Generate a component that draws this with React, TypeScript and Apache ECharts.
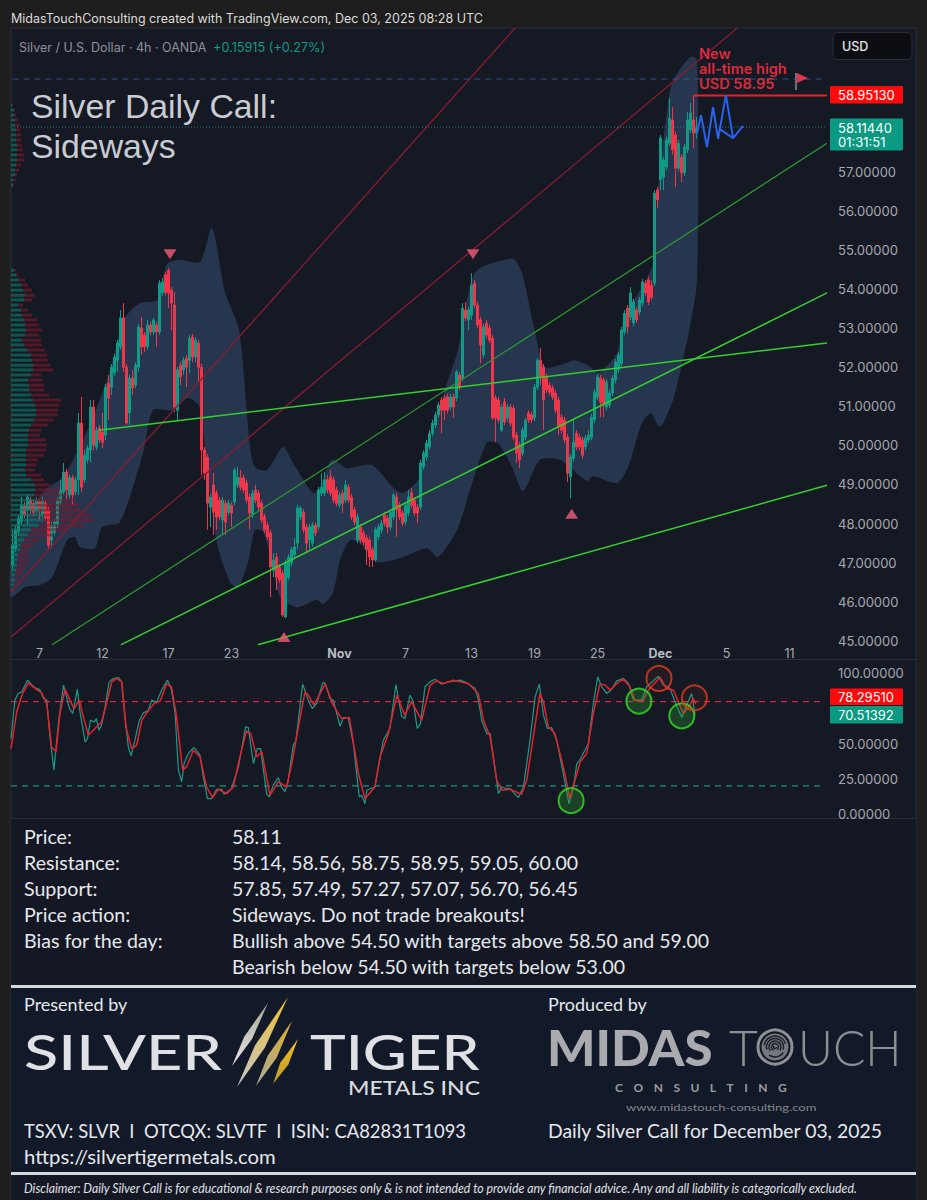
import * as echarts from "echarts";
import { useEffect, useRef } from "react";

// Price candles, 4h bars, one row per bar: open, close, low, high
const candles: number[][] = [
  [46.92,47.45,46.81,47.84],[47.37,47.84,47.27,47.96],[47.79,48.14,47.7,48.22],[48.04,48.47,47.96,48.68],[48.47,48.22,48.14,48.55],
  [48.35,48.68,47.96,48.76],[48.6,48.35,48.27,48.68],[48.52,48.29,48.2,48.6],[48.35,48.6,48.27,48.68],[48.55,48.35,48.09,48.63],
  [48.22,48.6,48.14,48.68],[48.52,48.14,48.06,48.6],[48.35,47.45,47.37,48.43],[47.58,47.96,47.37,48.04],[47.78,48.04,47.7,48.12],
  [47.96,48.6,47.88,48.68],[48.55,48.86,48.47,49.12],[48.81,49.32,48.73,49.55],[49.32,48.86,48.6,49.4],[48.73,49.17,48.65,49.25],
  [49.17,48.73,48.47,49.25],[48.81,49.12,48.73,49.2],[49.12,50.57,48.73,50.83],[50.57,48.93,48.81,51.24],[49.12,49.75,49.04,49.88],
  [49.63,49.93,49.55,50.01],[49.88,50.98,49.57,51.16],[50.98,50.01,49.88,51.16],[49.96,50.39,49.88,50.47],[50.44,50.14,50.06,50.52],
  [50.34,50.08,49.93,50.83],[50.26,51.49,50.14,51.57],[51.59,51.21,50.65,51.8],[51.49,52,51.29,52.08],[51.85,52.26,51.77,52.34],
  [52.18,52.62,51.88,52.7],[52.52,53.26,52.44,53.46],[53.26,52,51.88,53.64],[52,50.57,50.52,52.08],[50.83,51.72,50.52,51.8],
  [51.72,51.47,51.29,51.93],[51.54,52.05,51.46,52.13],[52,53.03,51.88,53.11],[53,52.52,52.31,53.28],[52.82,52.52,52.39,52.9],
  [52.52,53.08,52.44,53.21],[53.08,52.9,52.82,53.16],[52.9,53.21,52.82,53.26],[53.08,52.9,52.52,53.16],[52.9,54.15,52.82,54.23],
  [53.9,54.18,53.82,54.28],[54.36,53.92,53.84,54.43],[54.48,53.9,53.51,54.54],[53.97,53.64,52.95,54.05],[53.59,50.98,50.85,53.92],
  [50.9,51.93,50.65,52.01],[52.05,51.75,51.54,52.13],[51.93,52.18,51.8,52.26],[52.23,52,51.49,52.31],[52.18,52.74,51.85,52.82],
  [52.77,52.26,52.13,52.85],[52.26,52.69,52.13,52.77],[52.62,52,51.62,52.7],[52,49.88,49.24,52.08],[49.88,49.29,49.12,49.96],
  [49.7,48.52,47.84,49.78],[48.42,48.68,47.91,48.76],[48.99,48.29,47.71,49.29],[48.78,48.17,47.84,48.86],[48.6,48.17,48.09,48.68],
  [48.09,48.6,47.71,48.68],[48.52,48.04,47.71,48.6],[48.29,48.52,48.21,48.6],[48.47,48.27,47.91,48.55],[48.55,49.37,48.47,49.42],
  [48.99,49.19,48.91,49.45],[49.17,48.93,48.85,49.37],[49.17,48.86,48.78,49.25],[49.04,48.6,48.52,49.12],[48.68,48.27,47.84,48.76],
  [48.22,48.78,48.14,48.86],[48.86,48.6,48.52,48.99],[48.78,48.42,48.34,48.86],[48.52,48.09,48.01,48.6],[48.17,47.84,47.76,48.25],
  [47.96,47.66,47.58,48.04],[47.76,46.89,46.12,47.84],[46.81,47.07,46.63,47.25],[47.14,46.63,46.3,47.25],[46.89,46.56,46.48,46.97],
  [46.73,45.66,45.61,46.81],[45.61,47,45.58,47.08],[46.63,47.14,46.55,47.22],[46.99,47.33,46.91,47.41],[47.2,47.4,47.12,47.63],
  [47.5,48.4,47.33,48.48],[48.17,48.4,48.09,48.45],[48.29,47.84,47.76,48.37],[47.91,47.5,47.27,47.99],[47.58,47.91,47.33,47.99],
  [47.5,47.96,47.42,48.04],[47.96,47.76,47.68,48.04],[47.91,48.86,47.83,48.94],[48.78,48.93,48.7,49.29],[48.78,49.12,48.7,49.32],
  [49.12,48.86,48.78,49.24],[49.19,48.78,48.7,49.37],[49.12,48.6,48.52,49.2],[48.86,48.52,48.44,48.94],[48.47,48.73,48.39,48.81],
  [48.78,48.52,48.27,48.86],[48.6,48.99,48.52,49.12],[48.93,48.6,48.52,49.01],[48.68,48.17,48.09,48.76],[48.35,48.04,47.96,48.43],
  [47.58,48.17,47.5,48.25],[47.91,47.58,47.5,47.99],[47.76,47.53,47.45,47.84],[47.63,47.33,46.94,47.71],[47.58,47.14,46.89,47.66],
  [47.33,47.07,46.89,47.41],[47.07,47.84,47.02,47.92],[47.66,47.91,47.58,47.99],[47.84,48.01,47.76,48.09],[48.22,48.01,47.93,48.3],
  [48.14,47.91,47.76,48.22],[47.91,48.29,47.83,48.37],[48.17,48.73,48.09,48.78],[48.68,48.35,47.66,48.78],[48.47,48.17,48.09,48.55],
  [48.27,48.01,47.93,48.35],[48.04,48.47,47.96,48.55],[48.27,48.68,48.19,48.86],[48.78,48.47,48.39,48.91],[48.6,48.27,48.19,48.68],
  [48.42,48.27,48.01,48.5],[48.42,49.55,48.34,49.63],[49.45,49.8,49.37,49.88],[49.7,50.06,49.62,50.14],[49.96,50.31,49.88,50.39],
  [50.31,50.57,50.23,50.65],[50.52,50.78,50.44,50.86],[50.78,51.03,50.7,51.11],[51.16,50.9,50.31,51.24],[51.21,50.9,50.65,51.29],
  [51.24,50.9,50.82,51.32],[50.98,51.24,50.9,51.32],[51.24,50.98,50.7,51.32],[51.21,51.88,51.13,51.93],[51.8,51.49,51.41,51.88],
  [51.72,53.51,51.64,53.64],[53.46,53.26,53.18,53.66],[53.21,53.46,52.95,53.54],[53.33,54.1,53.21,54.41],[54.15,53.59,53.51,54.23],
  [53.59,53.08,53,53.67],[53.21,52.57,52.1,53.29],[52.31,53.03,52.23,53.11],[53.13,52.82,52.74,53.21],[53,52.69,52.61,53.08],
  [52.74,50.7,50.65,52.82],[51.21,50.7,50.08,51.29],[51.16,50.65,50.57,51.24],[50.39,50.98,50.34,51.06],[51.11,50.6,50.52,51.21],
  [50.7,50.98,50.62,51.06],[50.98,50.57,50.49,51.06],[50.95,50.21,50.13,51.03],[50.26,49.8,49.55,50.34],[50.01,49.63,49.42,50.09],
  [49.8,50.39,49.72,50.47],[50.21,50.65,50.13,50.7],[50.83,50.65,50.57,50.9],[50.78,50.65,50.57,50.86],[50.7,51.49,50.62,51.57],
  [51.49,52.18,51.41,52.23],[52.18,51.75,51.54,52.49],[52,51.16,50.39,52.08],[51.75,51.42,51.34,51.83],[51.54,51.36,51.28,51.62],
  [51.47,51.24,51.16,51.55],[51.34,50.9,50.82,51.42],[51.16,50.47,50.26,51.24],[50.72,50.39,50.31,50.8],[50.65,50.14,50.06,50.73],
  [50.21,49.29,49.06,50.29],[49.2,49.7,48.65,49.78],[49.67,50.08,49.59,50.65],[50.31,49.96,49.88,50.39],[50.21,49.96,49.88,50.29],
  [50.14,49.75,49.67,50.22],[49.96,50.19,49.88,50.27],[50.14,50.26,50.06,50.39],[50.21,50.72,50.13,50.8],[50.65,51.36,50.57,51.44],
  [51.24,51.75,51.16,51.83],[51.72,51.11,50.72,51.8],[51.67,51.03,50.72,51.75],[50.98,51.62,50.9,51.7],[51.03,51.34,50.95,51.42],
  [51.34,51.72,51.26,51.8],[51.67,52.13,51.59,52.21],[51.93,52.31,51.85,52.39],[52.1,52.95,52.02,53.03],[52.9,53.38,52.82,53.46],
  [53.51,53.03,52.87,53.59],[53.28,53.9,53.2,54.05],[53.13,53.67,53.05,53.75],[53.46,53.21,53.13,53.54],[53.41,53.72,53.33,53.8],
  [53.64,54.18,53.56,54.26],[54.15,53.9,53.82,54.23],[54.23,53.67,53.59,54.31],[54.1,53.79,53.72,54.23],[54.15,56.45,54.07,56.53],
  [56.53,56.28,56.07,56.61],[56.79,57.86,56.53,57.94],[56.86,57.3,56.53,57.38],[57.12,57.81,57.04,57.89],[57.73,58.37,57.65,58.88],
  [58.32,57.56,57.43,58.65],[57.94,57.09,56.61,58.02],[57.09,57.73,57.01,57.81],[57.37,56.97,56.73,57.45],[56.97,57.63,56.89,57.71],
  [57.56,58.32,57.48,58.53],[58.07,58.5,57.99,58.76],[58.32,57.99,57.6,58.95],[57.99,58.11,57.85,58.4],
];

const slotCount = 272;
const tickBars = [9, 30, 52, 73, 109, 131, 153, 174, 195, 216, 238, 259];
const tickLabels = ["7", "12", "17", "23", "Nov", "7", "13", "19", "25", "Dec", "5", "11"];
const priceTicks = [45, 46, 47, 48, 49, 50, 51, 52, 53, 54, 55, 56, 57];
const stochTicks = [0, 25, 50, 100];

// Blue band, upper and lower edge: bar position, price
const bandUpperBars = [-0.5,4.2,10.8,16.8,23.5,28.2,32.5,37.5,42.5,48.2,51.5,55.8,62.5,66.5,70.8,75.5,79.2,80.8,84.8,90.2,93.5,100.2,102.5,106.5,111.5,119.8,126.8,130.2,135.8,144.8,148.5,151.8,154.8,166.8,169.8,174.2,177.5,184.2,187.5,191.8,195.2,201.5,203.5,206.8,210.8,213.5,214.8,218.2,220.2,225.8,228.2];
const bandUpper = [47.07,48.09,48.86,49.19,50.14,50.98,51.93,53.26,53.64,53.72,54.64,54.74,54.69,55.56,53.92,52.95,49.96,49.45,49.37,49.96,49.55,48.78,48.93,49.63,49.42,49.5,48.93,48.78,49.19,51.59,52.44,53.84,54.48,54.77,54.41,52.9,52,52.1,52.18,52.05,51.85,52.36,53.21,53.67,54.18,54.66,56.28,58.58,59.34,59.93,59.86];
const bandLowerBars = [-0.5,4.2,9.2,13.2,18.2,20.8,22.5,27.5,29.8,35.8,43.5,46.8,53.5,58.5,62.5,64.8,68.2,72.5,75.2,78.5,80.8,83.5,86.5,89.2,94.8,101.5,103.5,106.8,109.2,112.5,115.8,121.5,129.2,138.2,141.8,148.2,152.5,158.2,161.8,166.5,170.2,175.8,182.5,191.5,193.5,201.5,205.2,209.8,212.8,215.8,220.2,223.2,225.8,228.2];
const bandLower = [46.12,46.38,46.43,46.63,47.58,47.66,47.4,47.37,47.91,48.04,49.8,50.9,50.9,51.21,50.95,49.37,47.5,46.5,46.38,47,47.84,47.79,47,46.12,45.86,46.05,45.94,46.22,47.07,47.58,47.5,47.02,47.12,47.37,47.14,47.84,48.86,50.08,50.06,49.45,48.83,49.63,49.63,49.09,49.22,49.04,49.45,50.57,50.83,50.47,51.16,52.1,53.03,54.23];

// Volume profile rows: price, buy volume, sell volume
const volumeProfile: number[][] = [
  [58.7,1,1],[58.58,3,1],[58.45,3,2],[58.32,4,3],[58.19,4,5],[58.07,5,4],[57.94,5,5],[57.81,5,5],[57.68,6,5],[57.56,6,6],[57.43,6,7],[57.3,6,7],[57.17,5,5],[57.04,4,4],[56.92,4,2],[56.79,2,3],[56.66,2,1],
  [54.48,3,2],[54.36,5,2],[54.23,8,6],[54.1,10,7],[53.97,12,9],[53.84,14,10],[53.72,13,8],[53.59,7,5],[53.46,10,7],[53.33,11,10],[53.21,13,13],[53.08,14,14],[52.95,15,16],[52.82,14,14],[52.69,11,19],[52.57,13,18],[52.44,16,18],[52.31,20,16],[52.18,21,16],[52.05,22,17],[51.93,22,20],[51.8,20,10],[51.67,17,15],[51.54,18,15],[51.42,18,15],[51.29,20,18],[51.16,22,28],[51.03,24,24],[50.9,25,22],[50.78,25,22],[50.65,23,20],[50.52,20,17],[50.39,18,12],[50.26,17,12],[50.14,17,18],[50.01,17,19],[49.88,15,20],[49.75,15,18],[49.63,15,12],[49.5,15,10],[49.37,14,10],[49.24,15,15],[49.12,20,13],[48.99,24,15],[48.86,24,25],[48.73,23,32],[48.6,24,40],[48.47,25,42],[48.35,28,43],[48.22,32,48],[48.09,33,50],[47.96,28,45],[47.84,20,35],[47.71,17,25],[47.58,13,15],[47.45,10,12],[47.33,9,8],[47.2,7,10],[47.07,6,12],[46.94,6,10],[46.81,5,8],[46.69,4,6],[46.56,4,4],[46.43,3,2],[46.3,2,2],
];

// Drawn trend lines: [bar, price] end points
const redChannelA = [[-0.5, 46.25], [167.5, 60.67]];
const redChannelB = [[-0.5, 45.1], [241.5, 60.67]];
const greenThin = [[13.2, 44.9], [271.5, 57.73]];
const greenMid = [[36.1, 44.9], [271.5, 53.9]];
const greenLow = [[81.8, 44.9], [271.5, 48.98]];
const greenFlat = [[28.8, 50.39], [271.5, 52.62]];
const athLine = [[227, 58.95], [271.5, 58.95]];
const blueDash = [[0, 59.37], [271.5, 59.37]];
const lastPriceDots = [[-0.5, 58.14], [271.5, 58.14]];
const forecast = [[228.2,57.99],[229.5,58.45],[231.5,57.63],[233.5,58.65],[235.2,57.84],[237.8,58.96],[240.2,57.86],[243.5,58.17]];
const forecastBranch = [[235.8, 58.09], [240.2, 57.86]];
const signalsDown = [[52.5, 54.89], [153.5, 54.89]];
const signalsUp = [[90.5, 45.1], [186.4, 48.25]];

// Stochastic pane
const stochKBars = [-0.5,0.8,1.9,3.1,5,7,9.2,10.3,11.4,12.5,13.8,15.3,17,19,20.1,21.6,22.5,24.2,25,26,27.2,28,28.8,29.7,30.8,32.2,33.6,35.3,36.4,37.5,38.6,39.5,40.8,42.3,43.6,45.3,46.4,48,49.7,51.7,53,54.2,55.3,56.4,57.2,58.6,60.5,62.5,63.6,65,66.4,68,69.7,70.5,73,75.3,77.7,78.6,80.3,81.6,82.7,84.7,85.6,86.9,88.6,89.7,90.8,91.9,93.6,94.5,96.7,98.6,99.9,101.4,103.4,104.2,105.8,106.9,109.2,110.3,111.9,113.6,115.6,116.4,117.5,118.1,120.8,123.6,125.8,127.8,129.7,130.8,132.5,133.6,134.9,136,137.5,139.2,140.8,143,145.3,149.2,151.4,154.2,155.3,156.4,158.1,159.2,160.3,162,163.1,164.7,165.8,168.6,170.3,172.5,174.2,175.6,177,178.3,179.7,181.4,183.6,185.5,187,188.1,189.2,192,193.6,195.1,196.4,198.1,199.7,201.4,203.6,205.3,207,209.7,211.4,215.3,217,219.2,220.8,223.1,224.7,226.4,227.5];
const stochK = [53.7,81,85.7,86.9,95.2,90.5,88.1,82.2,81,54.9,31.1,64.3,91.7,75,71.5,88.6,72.7,51.3,53.7,66.7,65.5,67.9,59.6,63.2,75,94,96.4,97.1,94,69.1,47.7,41.3,52.5,66.7,71.9,73.8,81,79.3,88.1,95.2,88.1,71.5,31.1,22.8,35.9,43,47.3,41.8,26.4,10.9,10.9,17.6,17.6,14,18,33.5,62,61.5,35.9,46.5,46.5,14.5,12.1,20.4,25.9,19.2,15.7,24,48.9,52.5,92.4,81,75,78.6,93.3,93.3,82.2,81,62.4,68.6,68.6,50.1,12.1,13.3,7.4,16.9,19.2,52.5,60.8,92.1,69.6,67.9,84.5,79.8,60.8,64.3,90.5,94,95.9,92.4,94,95.2,93.3,89.3,81,66.7,57.2,57.2,40.6,14.5,19.2,18,18,11.6,19.2,52.5,83.3,92.4,70.3,60.8,61.5,52.5,28.7,7.4,19.2,35.9,38.7,50.1,78.6,97.6,90.5,85.7,88.6,94.7,96.4,92.8,81,81,90.5,98.1,91.7,89.3,79.8,68.6,77.4,85.7,70.5];
const stochDBars = [-0.5,1.4,3.1,5.3,7.5,9.7,11.4,13,14.5,15.8,17.5,20.5,22.3,23.6,25.3,27.5,29.7,31.2,33.1,34.7,36.4,37.8,39.7,41.4,43.1,44.7,47.2,49.2,51.4,53,54.7,56.7,58,60.3,62.5,64.7,66.7,68.6,71.4,73.6,75.8,78,79.4,81.4,83.1,85.8,88.6,91.4,93.1,95.3,97.5,98.6,100.5,104.2,106.9,109.7,112.3,115.3,117.5,120.8,122.5,125.3,128.1,130.8,133,136.4,139.2,141.4,143.6,146.9,149.2,151.9,155.3,157,159.2,161.4,163.1,165.8,169.7,171.4,175.8,177,178.6,180.8,183.6,185.8,187.5,189.2,191.4,193.6,195.8,197.5,199.2,201.4,203.6,205.8,207.5,210.3,211.9,215.8,218,220.3,223.6,225.8,226.9,227.8];
const stochD = [46.5,72.7,84.5,93.3,89.3,86.2,78.6,47.7,44.2,71.5,88.6,75,81,69.1,56,60.8,65.5,77.4,94,96.4,94,62,46.5,48.9,66.7,71.9,78.6,80.3,92.8,90.5,69.1,31.1,33.5,45.4,40.6,19.2,11.6,17.6,14.5,19.2,40.6,59.1,57.2,40.6,44.2,13.3,22.8,19.2,35.9,62,86.9,84.5,77.4,92.4,77.4,67.9,68.6,28.7,10.9,19.2,40.6,57.2,84.5,70.3,79.8,66.7,91.7,94.7,92.8,95.2,94,92.8,85.7,66.7,54.9,24,16.9,17.6,14,24,85.7,79.8,62,57.2,33.5,10.9,24,37,43,71.5,92.4,91.7,88.1,92.8,95.9,90.5,80.5,81,88.1,97.1,89.3,88.1,71.5,77.4,82.2,78.3];
const stochBands = [80, 20];
const circlesGreen = [[186.2, 9.5], [208.8, 80.3], [223.1, 69.8]];
const circlesRed = [[215.5, 96.4], [227.3, 82.6]];

const tableLabels = ["Price:", "Resistance:", "Support:", "Price action:", "Bias for the day:"];
const tableValues = [
  "58.11",
  "58.14, 58.56, 58.75, 58.95, 59.05, 60.00",
  "57.85, 57.49, 57.27, 57.07, 56.70, 56.45",
  "Sideways. Do not trade breakouts!",
  "Bullish above 54.50 with targets above 58.50 and 59.00",
  "Bearish below 54.50 with targets below 53.00",
];

const TV_FONT = "Inter";
const DOC_FONT = "Lato";
const UP = "#0f9c86";
const DOWN = "#f0364a";

function txt(text: string, x: number, y: number, size: number, fill: string, extra: any = {}) {
  const { scaleX, weight, family, italic, align, z } = extra;
  return {
    type: "text",
    x,
    y,
    scaleX: scaleX ?? 1,
    z: z ?? 100,
    silent: true,
    style: {
      text,
      fill,
      fontSize: size,
      fontFamily: family ?? DOC_FONT,
      fontWeight: weight ?? "normal",
      fontStyle: italic ? "italic" : "normal",
      textAlign: align ?? "left",
      textVerticalAlign: "middle",
    },
  };
}

function box(x: number, y: number, width: number, height: number, fill: string, extra: any = {}) {
  return {
    type: "rect",
    z: extra.z ?? -1,
    silent: true,
    shape: { x, y, width, height, r: extra.r ?? 0 },
    style: { fill, stroke: extra.stroke, lineWidth: extra.stroke ? 1 : 0 },
  };
}

// one claw slash of the sponsor logo
function slash(x0: number, y0: number, x1: number, y1: number, w: number, top: string, bottom: string) {
  const mx = x0 + (x1 - x0) * 0.55;
  const my = y0 + (y1 - y0) * 0.55;
  return {
    type: "polygon",
    z: 100,
    silent: true,
    shape: { points: [[x0, y0], [mx + w, my + 1], [x1, y1], [mx - w, my - 1]] },
    style: {
      fill: new echarts.graphic.LinearGradient(0, 0, 0, 1, [
        { offset: 0, color: top },
        { offset: 1, color: bottom },
      ]),
    },
  };
}

function fingerArc(r: number, a0: number, a1: number) {
  return {
    type: "arc",
    z: 101,
    silent: true,
    shape: { cx: 775, cy: 1047, r, startAngle: a0, endAngle: a1 },
    style: { stroke: "#1a1e2a", lineWidth: 1.4, fill: "none" },
  };
}

function buildGraphic() {
  const rows = tableLabels.map((t, i) => txt(t, 24, 836 + i * 26, 20, "#e6e8ec", { scaleX: 0.98 }));
  const values = tableValues.map((t, i) => txt(t, 232, 836 + i * 26, 20, "#e6e8ec", { scaleX: 0.975 }));
  return [
    box(11, 28, 905, 1172, "#151924", { stroke: "#2a2e39" }),
    box(11, 819, 905, 167, "#141824"),
    box(11, 988, 905, 185, "#121929"),
    box(11, 1175, 905, 25, "#141824"),
    box(11, 985, 905, 3, "#d5d8de", { z: 5 }),
    box(11, 1172, 905, 3, "#d5d8de", { z: 5 }),
    box(11, 659, 905, 1, "#2a2e39"),
    box(11, 818, 905, 1, "#2a2e39"),

    txt("MidasTouchConsulting created with TradingView.com, Dec 03, 2025 08:28 UTC", 11, 18.5, 12.5, "#dcdcdc", { family: TV_FONT }),
    txt("Silver / U.S. Dollar · 4h · OANDA", 19, 47, 12.5, "#8f929b", { family: TV_FONT }),
    txt("+0.15915 (+0.27%)", 213, 47, 12.7, "#0f9c86", { family: TV_FONT }),
    txt("Silver Daily Call:", 31, 106, 33.8, "#c9ccd3", { family: "Liberation Sans" }),
    txt("Sideways", 31, 146, 33.8, "#c9ccd3", { family: "Liberation Sans" }),

    txt("New", 699, 54, 14, "#dc2b3c", { family: TV_FONT, weight: 600, scaleX: 1.04 }),
    txt("all-time high", 699, 69, 14, "#dc2b3c", { family: TV_FONT, weight: 600, scaleX: 1.04 }),
    txt("USD 58.95", 699, 84, 14, "#dc2b3c", { family: TV_FONT, weight: 600, scaleX: 1.04 }),
    { type: "line", z: 50, silent: true, shape: { x1: 796, y1: 73, x2: 796, y2: 90 }, style: { stroke: "#6a6d75", lineWidth: 2 } },
    { type: "polygon", z: 51, silent: true, shape: { points: [[797, 73], [808, 78], [797, 83]] }, style: { fill: "#e0354a" } },

    box(833, 32.5, 79, 27, "#0c0e13", { z: 50, r: 5, stroke: "#2a2e39" }),
    txt("USD", 842, 46, 12.5, "#e6e6e6", { family: TV_FONT, weight: 500 }),

    box(830, 86, 73, 17.5, "#ff0a0a", { z: 50, r: 1 }),
    txt("58.95130", 838, 95, 13, "#ffffff", { family: TV_FONT }),
    box(830, 118.5, 73, 32, "#0a9981", { z: 50, r: 1 }),
    txt("58.11440", 838, 127.5, 13, "#ffffff", { family: TV_FONT }),
    txt("01:31:51", 838, 142, 13, "#ffffff", { family: TV_FONT }),
    box(830, 688.5, 73, 16.5, "#ff0a0a", { z: 50, r: 1 }),
    txt("78.29510", 838, 697, 13, "#ffffff", { family: TV_FONT }),
    box(830, 706, 73, 17.5, "#0a9981", { z: 50, r: 1 }),
    txt("70.51392", 838, 715, 13, "#ffffff", { family: TV_FONT }),

    ...rows,
    ...values,

    txt("Presented by", 24, 1004, 18, "#e6e8ec"),
    txt("SILVER", 24, 1051, 49, "#dfe1e5", { weight: 500, scaleX: 1.285 }),
    txt("TIGER", 310, 1051, 49, "#dfe1e5", { weight: 500, scaleX: 1.23 }),
    txt("METALS INC", 348, 1088, 20, "#d8dade", { weight: 500, scaleX: 1.15 }),
    slash(268, 1003, 232, 1066, 4, "#a8a89c", "#e6e6e2"),
    slash(288, 997, 237, 1087, 5, "#f0c02c", "#c4c7cb"),
    slash(292, 1021, 256, 1086, 4.5, "#e0b028", "#a8a89c"),
    slash(298, 1039, 273, 1084, 4, "#f0c02c", "#c09620"),

    txt("Produced by", 548, 1004, 18, "#e6e8ec"),
    txt("MIDAS", 547, 1047, 50, "#a9abaf", { weight: 900, scaleX: 1.02 }),
    txt("T", 729, 1047, 50, "#8c8e92", { weight: 300 }),
    { type: "circle", z: 100, silent: true, shape: { cx: 775, cy: 1047, r: 17 }, style: { fill: "none", stroke: "#8f9195", lineWidth: 3 } },
    { type: "circle", z: 100, silent: true, shape: { cx: 775, cy: 1047, r: 13.5 }, style: { fill: "#74777c" } },
    fingerArc(11, 3.3, 6.0),
    fingerArc(8.5, 2.8, 6.6),
    fingerArc(6, 2.4, 6.9),
    fingerArc(3.5, 2.0, 7.2),
    fingerArc(10, 0.6, 2.2),
    fingerArc(1.5, 0, 4),
    txt("UCH", 798, 1047, 50, "#8c8e92", { weight: 300, scaleX: 0.96 }),
    txt("CONSULTING".split("").join("\u2003\u2009"), 615, 1087, 12, "#9a9ca0", { weight: 700 }),
    txt("www.midastouch-consulting.com", 626, 1107, 9, "#85878c", { scaleX: 1.45 }),

    txt("TSXV: SLVR  I  OTCQX: SLVTF  I  ISIN: CA82831T1093", 24, 1130, 20, "#e6e8ec", { scaleX: 0.92 }),
    txt("https://silvertigermetals.com", 24, 1156, 20, "#e6e8ec", { scaleX: 1.015 }),
    txt("Daily Silver Call for December 03, 2025", 548, 1130, 20, "#e6e8ec", { scaleX: 0.968 }),
    txt(
      "Disclaimer: Daily Silver Call is for educational & research purposes only & is not intended to provide any financial advice. Any and all liability is categorically excluded.",
      24, 1188, 13.5, "#e0e2e6", { italic: true, scaleX: 0.91 },
    ),
  ];
}

const priceLine = (name: string, data: number[][], color: string, width: number, type: any = "solid") => ({
  type: "line",
  name,
  xAxisIndex: 1,
  yAxisIndex: 0,
  data,
  symbol: "none",
  silent: true,
  z: 6,
  lineStyle: { color, width, type },
});

const stochLine = (name: string, data: number[][], color: string, width: number, type: any = "solid") => ({
  type: "line",
  name,
  xAxisIndex: 2,
  yAxisIndex: 1,
  data,
  symbol: "none",
  silent: true,
  z: 6,
  lineStyle: { color, width, type },
});

export default function App() {
  const chartRef = useRef<HTMLDivElement | null>(null);

  useEffect(() => {
    const el = chartRef.current;
    if (!el) return;
    document.body.style.margin = "0";
    document.body.style.background = "#1e1e1e";

    const chart = echarts.init(el, undefined, { renderer: "svg" });

    const slots = Array.from({ length: slotCount }, (_, i) => {
      const at = tickBars.indexOf(i);
      return at >= 0 ? tickLabels[at] : "";
    });

    const option: any = {
      animation: false,
      backgroundColor: "#1e1e1e",
      graphic: buildGraphic(),
      grid: [
        { left: 11, top: 28, width: 816, height: 617 },
        { left: 11, top: 659.5, width: 816, height: 159 },
      ],
      xAxis: [
        {
          type: "category",
          gridIndex: 0,
          data: slots,
          axisLine: { show: false },
          axisTick: { show: false },
          axisLabel: {
            interval: (i: number) => tickBars.includes(i),
            margin: 2,
            hideOverlap: false,
            formatter: (v: string) => (v === "Nov" || v === "Dec" ? `{m|${v}}` : v),
            fontFamily: TV_FONT,
            fontSize: 12.5,
            color: "#a9acb5",
            rich: { m: { fontFamily: TV_FONT, fontSize: 12.5, fontWeight: 700, color: "#b8bbc3" } },
          },
        },
        { type: "value", gridIndex: 0, show: false, min: -0.5, max: 271.5 },
        { type: "value", gridIndex: 1, show: false, min: -0.5, max: 271.5 },
      ],
      yAxis: [
        {
          type: "value",
          gridIndex: 0,
          position: "right",
          min: 44.895,
          max: 60.675,
          splitLine: { show: false },
          axisLine: { show: false },
          axisTick: { show: false },
          axisLabel: {
            customValues: priceTicks,
            margin: 11,
            fontFamily: TV_FONT,
            fontSize: 13,
            color: "#a5a8b1",
            formatter: (v: number) => v.toFixed(5),
          },
        },
        {
          type: "value",
          gridIndex: 1,
          position: "right",
          min: -3.2,
          max: 109.9,
          splitLine: { show: false },
          axisLine: { show: false },
          axisTick: { show: false },
          axisLabel: {
            customValues: stochTicks,
            margin: 11,
            fontFamily: TV_FONT,
            fontSize: 13,
            color: "#a5a8b1",
            formatter: (v: number) => v.toFixed(5),
          },
        },
      ],
      series: [
        {
          type: "custom",
          name: "Band",
          xAxisIndex: 1,
          yAxisIndex: 0,
          silent: true,
          z: 1,
          data: [[0, 50]],
          renderItem: (_: any, api: any) => {
            const top = bandUpperBars.map((b, i) => api.coord([b, bandUpper[i]]));
            const low = bandLowerBars.map((b, i) => api.coord([b, bandLower[i]])).reverse();
            return {
              type: "polygon",
              shape: { points: [...top, ...low], smooth: 0.25 },
              style: { fill: "#27364f" },
            };
          },
        },
        {
          type: "candlestick",
          name: "Silver",
          xAxisIndex: 0,
          yAxisIndex: 0,
          data: candles,
          barWidth: 2.2,
          silent: true,
          z: 3,
          itemStyle: { color: UP, color0: DOWN, borderColor: UP, borderColor0: DOWN, borderWidth: 1 },
        },
        {
          type: "custom",
          name: "Volume profile",
          xAxisIndex: 1,
          yAxisIndex: 0,
          silent: true,
          z: 4,
          data: volumeProfile,
          encode: { y: 0 },
          renderItem: (_: any, api: any) => {
            const price = api.value(0);
            const buy = api.value(1);
            const sell = api.value(2);
            const x0 = api.coord([-0.5, price]);
            const x1 = api.coord([-0.5 + buy / 3, price]);
            const x2 = api.coord([-0.5 + (buy + sell) / 3, price]);
            return {
              type: "group",
              children: [
                { type: "rect", shape: { x: x0[0], y: x0[1] - 1.5, width: x1[0] - x0[0], height: 3 }, style: { fill: "rgba(12,120,104,0.65)" } },
                { type: "rect", shape: { x: x1[0], y: x0[1] - 1.5, width: x2[0] - x1[0], height: 3 }, style: { fill: "rgba(130,22,40,0.6)" } },
              ],
            };
          },
        },
        priceLine("Red channel A", redChannelA, "#8a1c2e", 1.3),
        priceLine("Red channel B", redChannelB, "#8a1c2e", 1.3),
        priceLine("Green thin", greenThin, "#2d9c30", 1.2),
        priceLine("Green mid", greenMid, "#34cf2e", 1.5),
        priceLine("Green low", greenLow, "#34cf2e", 1.5),
        priceLine("Green flat", greenFlat, "#34cf2e", 1.5),
        priceLine("Blue dashes", blueDash, "#32528f", 1, [6, 5]),
        priceLine("Last price", lastPriceDots, "#1d7f70", 1, [1, 2]),
        priceLine("All-time high", athLine, "#f01e24", 2),
        priceLine("Forecast", forecast, "#2a62f0", 2),
        priceLine("Forecast branch", forecastBranch, "#2a62f0", 2),
        {
          type: "scatter",
          name: "Tops",
          xAxisIndex: 1,
          yAxisIndex: 0,
          data: signalsDown,
          symbol: "triangle",
          symbolRotate: 180,
          symbolSize: [13, 10],
          silent: true,
          z: 7,
          itemStyle: { color: "#f05c7a" },
        },
        {
          type: "scatter",
          name: "Bottoms",
          xAxisIndex: 1,
          yAxisIndex: 0,
          data: signalsUp,
          symbol: "triangle",
          symbolSize: [13, 10],
          silent: true,
          z: 7,
          itemStyle: { color: "#f05c7a" },
        },
        ...stochBands.map((level, i) =>
          stochLine(`Band ${level}`, [[-0.5, level], [270, level]], i === 0 ? "#e0213a" : "#1f8f80", 1.2, [6, 5]),
        ),
        stochLine("%K", stochKBars.map((b, i) => [b, stochK[i]]), "#1c9a88", 1.2),
        stochLine("%D", stochDBars.map((b, i) => [b, stochD[i]]), "#e8202e", 1.5),
        {
          type: "scatter",
          name: "Oversold marks",
          xAxisIndex: 2,
          yAxisIndex: 1,
          data: circlesGreen,
          symbolSize: 25,
          silent: true,
          z: 8,
          itemStyle: { color: "rgba(44,170,44,0.35)", borderColor: "#34e024", borderWidth: 2 },
        },
        {
          type: "scatter",
          name: "Overbought marks",
          xAxisIndex: 2,
          yAxisIndex: 1,
          data: circlesRed,
          symbolSize: 25,
          silent: true,
          z: 8,
          itemStyle: { color: "rgba(200,60,30,0.1)", borderColor: "#e23c1e", borderWidth: 2 },
        },
      ],
    };

    chart.setOption(option);

    return () => {
      if (!chart.isDisposed()) chart.dispose();
    };
  }, []);

  return <div ref={chartRef} style={{ width: 927, height: 1200 }} />;
}
